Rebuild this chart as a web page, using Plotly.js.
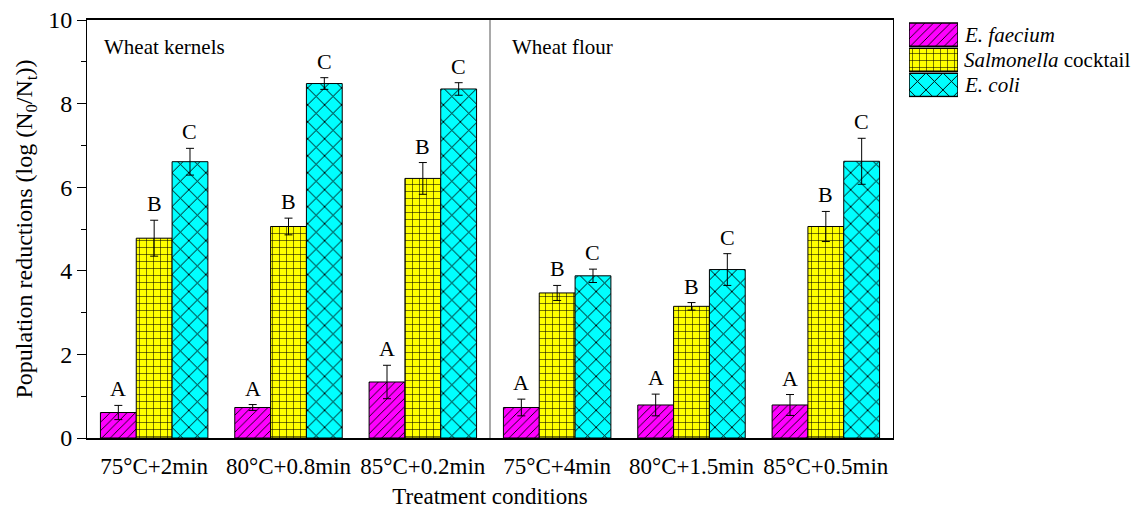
<!DOCTYPE html>
<html>
<head>
<meta charset="utf-8">
<script src="https://cdn.plot.ly/plotly-3.0.1.min.js"></script>
<style>html,body{margin:0;padding:0;background:#fff;}#chart{width:1142px;height:512px;}</style>
</head>
<body>
<div id="chart"></div>
<script>
const categories = ["75°C+2min", "80°C+0.8min", "85°C+0.2min", "75°C+4min", "80°C+1.5min", "85°C+0.5min"];
const faeciumValues = [0.61, 0.73, 1.34, 0.73, 0.79, 0.79];
const faeciumErrors = [0.17, 0.07, 0.40, 0.20, 0.26, 0.25];
const salmonellaValues = [4.78, 5.06, 6.21, 3.47, 3.15, 5.06];
const salmonellaErrors = [0.43, 0.20, 0.38, 0.18, 0.09, 0.36];
const coliValues = [6.61, 8.48, 8.35, 3.88, 4.03, 6.62];
const coliErrors = [0.32, 0.14, 0.15, 0.16, 0.38, 0.55];
const faeciumLetters = ["A", "A", "A", "A", "A", "A"];
const salmonellaLetters = ["B", "B", "B", "B", "B", "B"];
const coliLetters = ["C", "C", "C", "C", "C", "C"];
const seriesNames = ["<i>E. faecium</i>", "<i>Salmonella</i> cocktail", "<i>E. coli</i>"];
const seriesColors = ["#ff00ff", "#ffff00", "#00ffff"];
const seriesShapes = ["/", "+", "x"];
const seriesPatternSizes = [6, 7, 12];
const panelLabels = ["Wheat kernels", "Wheat flour"];
const xTitle = "Treatment conditions";
const yTitle = "Population reductions (log (N<sub>0</sub>/N<sub>t</sub>))";

const FONT = "Liberation Serif";
const PLOT_L = 87, PLOT_R = 893, PLOT_T = 20, PLOT_B = 438, W = 1142, H = 512;
const areaW = W - PLOT_L, areaH = PLOT_B - PLOT_T;

function patternMarker(k, lw) {
  return {
    color: seriesColors[k],
    line: {color: "#000", width: lw},
    pattern: {shape: seriesShapes[k], fillmode: "replace", bgcolor: seriesColors[k], fgcolor: "#000", size: seriesPatternSizes[k], solidity: 0.15}
  };
}

function barTrace(k, y, err) {
  return {
    type: "bar", name: seriesNames[k], x: categories, y: y, xaxis: "x", yaxis: "y",
    showlegend: false, hoverinfo: "skip",
    error_y: {type: "data", array: err, visible: true, color: "#000", thickness: 1, width: 4},
    marker: patternMarker(k, 1)
  };
}

function legendSwatch(k) {
  return {
    type: "bar", orientation: "h", xaxis: "x2", yaxis: "y2", offsetgroup: "legend",
    x: [1], y: [k], width: 0.92, name: seriesNames[k],
    showlegend: false, hoverinfo: "skip",
    marker: patternMarker(k, 1.5)
  };
}

const data = [
  barTrace(0, faeciumValues, faeciumErrors),
  barTrace(1, salmonellaValues, salmonellaErrors),
  barTrace(2, coliValues, coliErrors),
  legendSwatch(0), legendSwatch(1), legendSwatch(2)
];

const annotations = [];
const groups = [[faeciumValues, faeciumErrors, faeciumLetters, 0], [salmonellaValues, salmonellaErrors, salmonellaLetters, 1], [coliValues, coliErrors, coliLetters, 2]];
const barW = 0.8 / 3;
groups.forEach(g => {
  categories.forEach((c, i) => {
    annotations.push({
      x: i + (g[3] - 1) * barW, y: g[0][i] + g[1][i], xref: "x", yref: "y",
      text: g[2][i], showarrow: false, yanchor: "bottom", yshift: 2,
      font: {family: FONT, size: 22, color: "#000"}
    });
  });
});
annotations.push({x: 0.018, y: 0.935, xref: "x domain", yref: "y domain", xanchor: "left", yanchor: "middle", text: panelLabels[0], showarrow: false, font: {family: FONT, size: 21, color: "#000"}});
annotations.push({x: 0.525, y: 0.935, xref: "x domain", yref: "y domain", xanchor: "left", yanchor: "middle", text: panelLabels[1], showarrow: false, font: {family: FONT, size: 21, color: "#000"}});
seriesNames.forEach((n, i) => {
  annotations.push({x: 1, y: i, xref: "x2", yref: "y2", xanchor: "left", yanchor: "middle", xshift: 4, text: n, showarrow: false, font: {family: FONT, size: 21, color: "#000"}});
});

const layout = {
  width: W, height: H,
  margin: {l: PLOT_L, r: 0, t: PLOT_T, b: H - PLOT_B, pad: 0},
  paper_bgcolor: "#fff", plot_bgcolor: "rgba(0,0,0,0)",
  font: {family: FONT, size: 22, color: "#000"},
  barmode: "group", bargap: 0.2, bargroupgap: 0,
  showlegend: false,
  xaxis: {
    domain: [0, (PLOT_R - PLOT_L) / areaW],
    type: "category", showline: true, linecolor: "#000", linewidth: 2, mirror: true,
    ticks: "outside", ticklen: 6, tickcolor: "rgba(0,0,0,0)", tickfont: {family: FONT, size: 23},
    showgrid: false, zeroline: false, fixedrange: true,
    title: {text: xTitle, font: {family: FONT, size: 23}, standoff: 10}
  },
  yaxis: {
    range: [0, 10], dtick: 2, showline: true, linecolor: "#000", linewidth: 1, mirror: true,
    ticks: "outside", ticklen: 9, tickcolor: "#000", tickfont: {family: FONT, size: 24},
    minor: {dtick: 1, ticks: "outside", ticklen: 5, tickcolor: "#000"},
    showgrid: false, zeroline: false, fixedrange: true,
    title: {text: yTitle, font: {family: FONT, size: 24}, standoff: 8}
  },
  xaxis2: {domain: [(909 - PLOT_L) / areaW, (958 - PLOT_L) / areaW], range: [0, 1], visible: false, fixedrange: true, anchor: "y2"},
  yaxis2: {domain: [(PLOT_B - 97.5) / areaH, (PLOT_B - 22) / areaH], range: [2.5, -0.5], visible: false, fixedrange: true, anchor: "x2"},
  shapes: [{type: "line", xref: "x", yref: "y domain", x0: 2.5, x1: 2.5, y0: 0, y1: 1, line: {color: "#555", width: 1}}],
  annotations: annotations
};

Plotly.newPlot("chart", data, layout, {displayModeBar: false, staticPlot: true});
</script>
</body>
</html>
